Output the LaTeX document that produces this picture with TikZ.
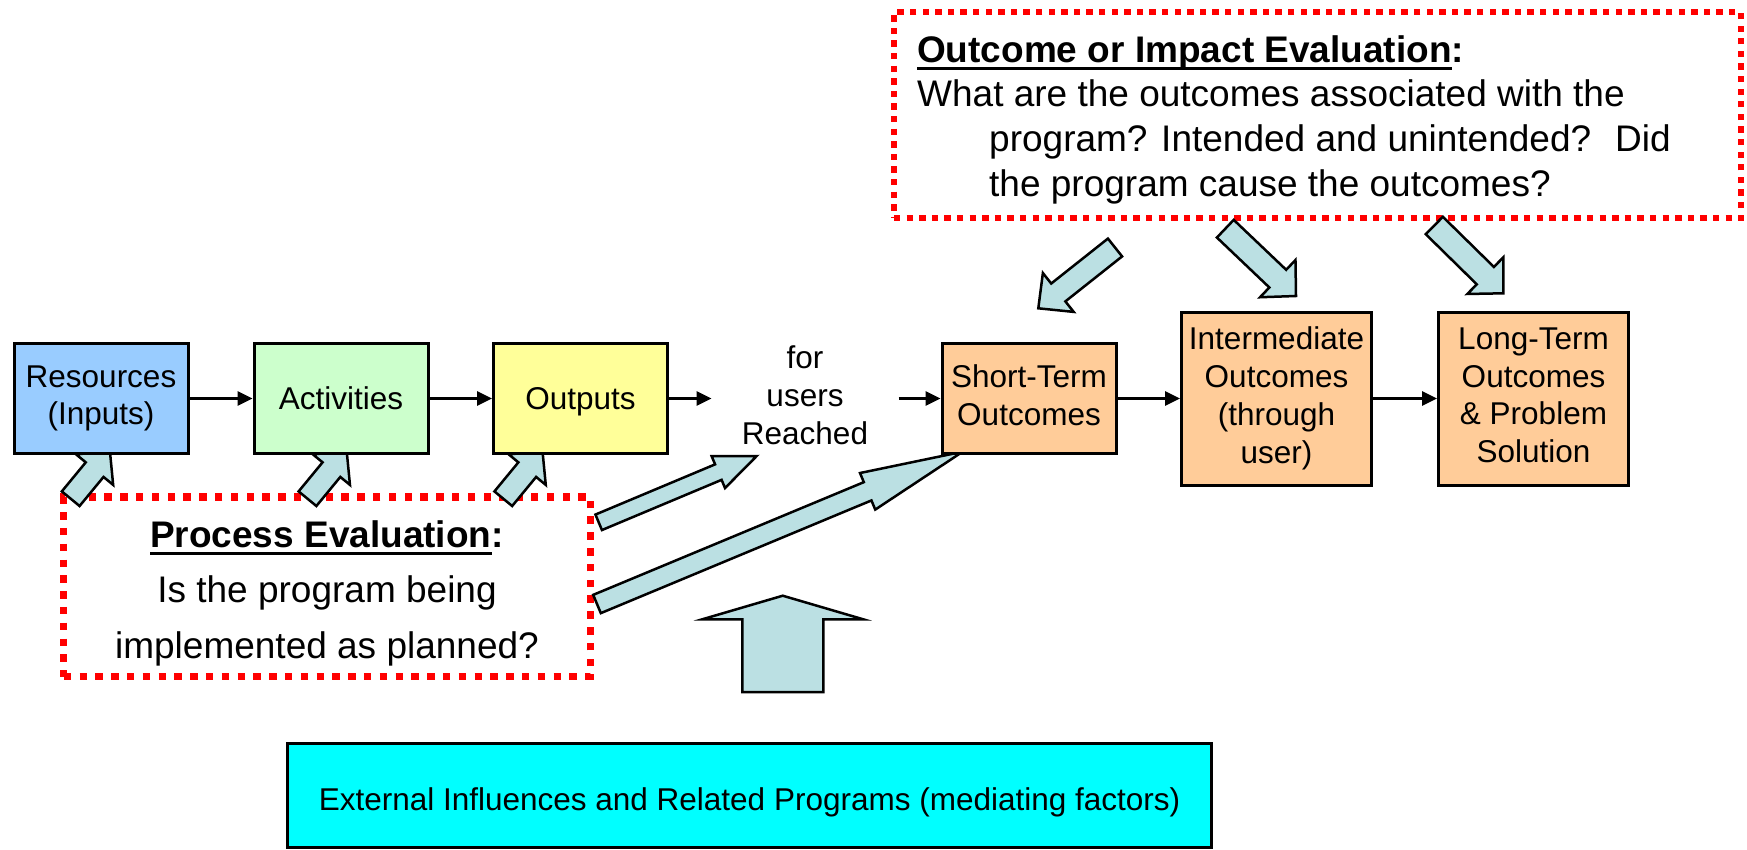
\documentclass[tikz,border=0pt]{standalone}
\usepackage{fontspec}
\setmainfont{Liberation Sans}
\usetikzlibrary{calc,arrows.meta}

\definecolor{resblue}{HTML}{99CCFF}
\definecolor{actgreen}{HTML}{CCFFCC}
\definecolor{outyellow}{HTML}{FFFF99}
\definecolor{outcomeorange}{HTML}{FFCC99}
\definecolor{extcyan}{HTML}{00FFFF}
\definecolor{fatfill}{HTML}{BBE0E3}
\definecolor{evalred}{HTML}{FF0000}

% underline with a fixed offset below the baseline
\newcommand\ulword[1]{\setbox0=\hbox{#1}\rlap{\rule[-7.3pt]{\wd0}{2.6pt}}\box0}
% invisible strut spanning the full ascender/descender of a line
\newcommand\linestrut{\rule[-0.212em]{0pt}{1.117em}}

% block arrow: #1 name prefix, #2 tail, #3 tip, #4 half shaft width,
% #5 half head width, #6 head length
\newcommand\fatarrow[6]{%
  \coordinate (#1b) at ($(#3)!#6!(#2)$);
  \draw[fatarrowstyle]
    ($(#2)!#4!90:(#3)$) -- ($(#1b)!#4!90:(#3)$) -- ($(#1b)!#5!90:(#3)$)
    -- (#3)
    -- ($(#1b)!#5!-90:(#3)$) -- ($(#1b)!#4!-90:(#3)$) -- ($(#2)!#4!-90:(#3)$)
    -- cycle;
}

\begin{document}
\begin{tikzpicture}[x=1pt,y=-1pt,
  stagebox/.style={draw=black, line width=3pt, inner sep=0pt, align=center,
    font=\fontsize{31.5}{37.8}\selectfont, minimum width=174pt, minimum height=110pt,
    execute at begin node=\linestrut, execute at end node=\linestrut},
  tallbox/.style={stagebox, fill=outcomeorange, minimum width=190pt, minimum height=173pt},
  flow/.style={-{Triangle[length=15pt,width=14pt]}, line width=3pt},
  fatarrowstyle/.style={fill=fatfill, draw=black, line width=2.5pt, line join=miter},
  procframe/.style={draw=evalred, line width=7.3pt, dash pattern=on 7.5pt off 8.3pt,
    inner sep=0pt},
  outframe/.style={draw=evalred, line width=6.3pt, dash pattern=on 6.3pt off 6.3pt,
    inner sep=0pt},
  evaltext/.style={inner sep=0pt}
]
\useasboundingbox (0,0) rectangle (1747,849);

% evaluation frames
\node[procframe, minimum width=526.8pt, minimum height=179.5pt] (procframe) at (327.1,586.75) {};
\node[outframe, minimum width=847pt, minimum height=205.7pt] (outframe) at (1317.5,115.15) {};

% block arrow end points
\coordinate (a1t) at (70.7,498.7);   \coordinate (a1h) at (109.9,451.1);
\coordinate (a2t) at (307.5,498.7);  \coordinate (a2h) at (346.7,451.1);
\coordinate (a3t) at (503.3,498.7);  \coordinate (a3h) at (542.5,451.1);
\coordinate (a4t) at (598.7,522.3);  \coordinate (a4h) at (756.7,456);
\coordinate (a5t) at (597,604);      \coordinate (a5h) at (962.7,451.7);
\coordinate (a6t) at (1115,247.5);   \coordinate (a6h) at (1038.3,308.3);
\coordinate (a7t) at (1225.3,228.7); \coordinate (a7h) at (1296,296);
\coordinate (a8t) at (1434.3,225.5); \coordinate (a8h) at (1503.3,293.3);
\coordinate (a9t) at (782.75,692);   \coordinate (a9h) at (782.75,595.7);

\fatarrow{a1}{a1t}{a1h}{11.5pt}{24pt}{24pt}
\fatarrow{a2}{a2t}{a2h}{11.5pt}{24pt}{24pt}
\fatarrow{a3}{a3t}{a3h}{11.5pt}{24pt}{24pt}
\fatarrow{a4}{a4t}{a4h}{8.4pt}{17.3pt}{41.6pt}
\fatarrow{a5}{a5t}{a5h}{9.9pt}{19.8pt}{103pt}
\fatarrow{a6}{a6t}{a6h}{11.4pt}{24.8pt}{25.5pt}
\fatarrow{a7}{a7t}{a7h}{12.2pt}{25.7pt}{25.2pt}
\fatarrow{a8}{a8t}{a8h}{12.2pt}{25.7pt}{25.2pt}
\fatarrow{a9}{a9t}{a9h}{40.5pt}{80.5pt}{23.6pt}

% logic model stages
\node[stagebox, fill=resblue] (res) at (101,398.5) {Resources\\(Inputs)};
\node[stagebox, fill=actgreen] (act) at (341,398.5) {Activities};
\node[stagebox, fill=outyellow] (outp) at (580.5,398.5) {Outputs};
\node[stagebox, draw=none, minimum width=184pt] (reach) at (805,398.5) {for\\users\\Reached};
\node[stagebox, fill=outcomeorange] (short) at (1029,398.5) {Short-Term\\Outcomes};
\node[tallbox] (inter) at (1276.5,398.5) {Intermediate\\Outcomes\\(through\\user)};
\node[tallbox] (long) at (1533.5,398.5) {Long-Term\\Outcomes\\\& Problem\\Solution};

\draw[flow] (res) -- (act);
\draw[flow] (act) -- (outp);
\draw[flow] (outp) -- (reach);
\draw[flow] (reach) -- (short);
\draw[flow] (short) -- (inter);
\draw[flow] (inter) -- (long);

% external influences
\node[stagebox, fill=extcyan, minimum width=924pt, minimum height=104pt] (ext) at (749.5,795.5)
  {\raisebox{-4.5pt}[\height][\depth]{External Influences and Related Programs (mediating factors)}};

% evaluation questions
\node[evaltext, anchor=north, align=center, font=\fontsize{37}{55.5}\selectfont] (proctext) at (327,520.2)
  {\ulword{\textbf{Process Evaluation}}\textbf{:}\\Is the program being\\implemented as planned?};
\node[evaltext, anchor=north west, align=left, font=\fontsize{37}{44.6}\selectfont] (outtext) at (917,35.2)
  {\ulword{\textbf{Outcome or Impact Evaluation}}\textbf{:}\\
   What are the outcomes associated with the\\
   \hspace*{72pt}program? Intended and unintended?~ Did\\
   \hspace*{72pt}the program cause the outcomes?};
\end{tikzpicture}
\end{document}
